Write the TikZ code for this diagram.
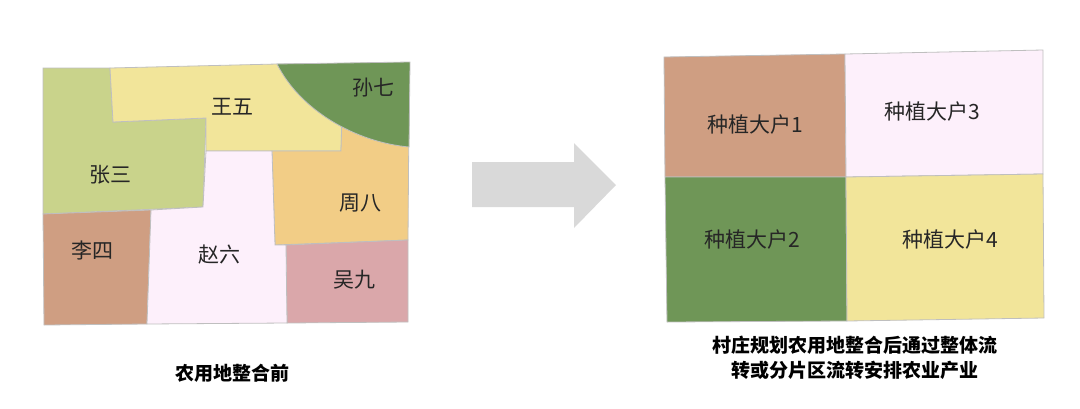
\documentclass[tikz,border=0pt]{standalone}
\usepackage{fontspec}
\setmainfont{Noto Sans CJK SC}
\begin{document}
\begin{tikzpicture}[x=1pt,y=-1pt,
  parcel/.style={draw=black!25,line width=0.8pt},
  lab/.style={font=\fontsize{21}{24}\selectfont,text=black!85},
  captext/.style={font=\bfseries\fontsize{19}{25}\selectfont,align=center}]
\definecolor{cz}{HTML}{C9D38B}\definecolor{cw}{HTML}{F2E59A}
\definecolor{cs}{HTML}{6F9657}\definecolor{cb}{HTML}{F2CD86}
\definecolor{cl}{HTML}{CF9E82}\definecolor{cr}{HTML}{FDF0FB}
\definecolor{cj}{HTML}{DAA7AA}\definecolor{ca}{HTML}{D9D9D9}
\useasboundingbox (0,0) rectangle (1080,408);
% left map
\fill[cz,parcel] (43,68)--(110,68)--(113,122)--(206,118)--(203,207)--(43,214)--cycle;
\fill[cw,parcel] (110,68)--(277,64)--(342,64)--(342,124)--(341,151)--(206,151)--(206,118)--(113,122)--cycle;
\fill[cb,parcel] (272,151)--(341,151)--(342,110)--(409,110)--(408,240)--(275,245)--cycle;
\fill[cs,parcel] (277,64)--(410,62)--(409,147) .. controls (355,142) and (300,110) .. (277,64)--cycle;
\fill[cj,parcel] (286,245)--(408,240)--(408,322)--(287,323)--cycle;
\fill[cl,parcel] (43,214)--(151,210)--(147,324)--(44,325)--cycle;
\fill[cr,parcel] (151,210)--(203,207)--(206,151)--(272,151)--(275,245)--(286,245)--(287,323)--(147,324)--cycle;
\node[lab] (zs) at (110,175) {张三};
\node[lab] (ww) at (232,107) {王五};
\node[lab] (sq) at (373,88) {孙七};
\node[lab] (zb) at (360,203) {周八};
\node[lab] (ls) at (92,250) {李四};
\node[lab] (zl) at (219,255) {赵六};
\node[lab] (wj) at (354,280) {吴九};
\node[captext] (c1) at (232,373) {农用地整合前};
% arrow
\fill[ca] (472,162)--(574,162)--(574,143)--(616,185)--(574,228)--(574,207)--(472,207)--cycle;
% right map
\fill[cl,parcel] (664,57)--(845,54)--(846,177)--(665,177)--cycle;
\fill[cr,parcel] (845,54)--(1043,50)--(1043,174)--(846,177)--cycle;
\fill[cs,parcel] (665,177)--(846,177)--(847,321)--(667,322)--cycle;
\fill[cw,parcel] (846,177)--(1043,174)--(1044,318)--(847,321)--cycle;
\node[lab] (d1) at (755,125) {种植大户1};
\node[lab] (d3) at (932,112) {种植大户3};
\node[lab] (d2) at (752,240) {种植大户2};
\node[lab] (d4) at (950,240) {种植大户4};
\node[captext] (c2) at (855,358) {村庄规划农用地整合后通过整体流\\转或分片区流转安排农业产业};
\end{tikzpicture}
\end{document}
